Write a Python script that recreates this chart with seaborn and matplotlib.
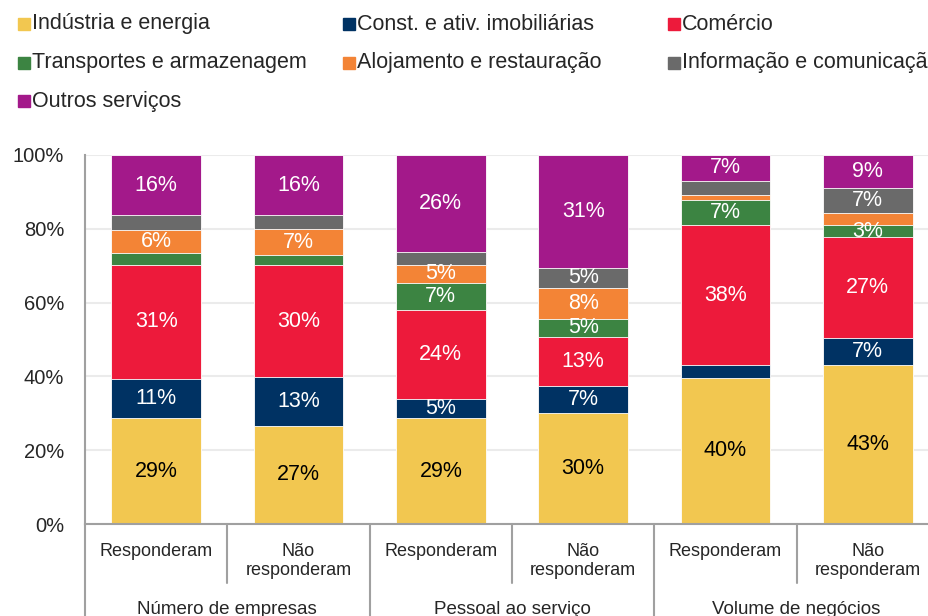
import numpy as np
import matplotlib
matplotlib.use("Agg")
import matplotlib.pyplot as plt
from matplotlib.patches import Rectangle
import seaborn as sns

groups = ["Número de empresas", "Pessoal ao serviço", "Volume de negócios"]
answers = ["Responderam", "Não\nresponderam"]

sectors = ["Indústria e energia", "Const. e ativ. imobiliárias", "Comércio",
           "Transportes e armazenagem", "Alojamento e restauração",
           "Informação e comunicação", "Outros serviços"]
colors = ["#F2C750", "#003263", "#ED1A3B", "#3C8442", "#F38436", "#6A6A6A", "#A3198A"]

# shares (%) per bar: empresas R/NR, pessoal R/NR, volume R/NR
industria = [28.7, 26.6, 28.6, 30.1, 39.6, 43.1]
construcao = [10.6, 13.2, 5.4, 7.3, 3.5, 7.3]
comercio = [30.9, 30.4, 24.1, 13.3, 37.9, 27.4]
transportes = [3.2, 2.7, 7.3, 4.9, 6.8, 3.2]
alojamento = [6.3, 7.0, 4.9, 8.4, 1.4, 3.3]
informacao = [4.0, 3.8, 3.5, 5.4, 3.8, 6.8]
outros = [16.3, 16.3, 26.2, 30.6, 7.0, 8.9]

min_label = 4.5
extra_labels = [(3, 5)]  # small segment that is still labelled

sns.set_style("white")
plt.rcParams['font.family'] = ['Liberation Sans', 'DejaVu Sans']

shares = np.array([industria, construcao, comercio, transportes, alojamento, informacao, outros])
tops = shares.cumsum(axis=0)
keys = [f"{g}|{a}" for g in groups for a in answers]

fig = plt.figure(figsize=(9.29, 6.16), dpi=100)
W, H = 929, 616
ax = fig.add_axes([85 / W, 92 / H, 854 / W, 369 / H])

# draw cumulative totals from the top segment down so each layer covers the next
for i in range(len(sectors) - 1, -1, -1):
    sns.barplot(x=keys, y=tops[i], order=keys, color=colors[i], saturation=1,
                width=0.63, edgecolor="white", linewidth=0.6, errorbar=None, ax=ax)

for i in range(len(sectors)):
    for j in range(len(keys)):
        val = shares[i, j]
        if val >= min_label or (i, j) in extra_labels:
            ax.text(j, tops[i, j] - val / 2, f"{val:.0f}%", ha="center", va="center",
                    fontsize=15.5, color="black" if i == 0 else "white")

ax.set_xlim(-0.5, len(keys) - 0.5)
ax.set_ylim(0, 100)
ax.set_yticks(range(0, 101, 20))
ax.set_yticklabels([f"{v}%" for v in range(0, 101, 20)], fontsize=14.5)
ax.yaxis.grid(True, color="#EBEBEB", lw=1.5)
ax.set_axisbelow(True)
ax.tick_params(axis="y", length=5, width=1.5, color="#A0A0A0", pad=10)
ax.set_xticks(range(len(keys)))
ax.set_xticklabels(answers * len(groups), fontsize=13, linespacing=1.15)
ax.tick_params(axis="x", length=0, pad=14)
ax.set_xlabel("")
ax.set_ylabel("")
for side in ["top", "right"]:
    ax.spines[side].set_visible(False)
for side in ["left", "bottom"]:
    ax.spines[side].set_color("#A0A0A0")
    ax.spines[side].set_linewidth(1.5)

# hierarchical category axis
trans = ax.get_xaxis_transform()
y_low = -(616 - 524) / 369
y_mid = -(583 - 524) / 369
for k in range(len(groups) + 1):
    ax.plot([2 * k - 0.5] * 2, [0, y_low], color="#A0A0A0", lw=1.5,
            transform=trans, clip_on=False)
for k in range(len(groups)):
    ax.plot([2 * k + 0.5] * 2, [0, y_mid], color="#A0A0A0", lw=1.5,
            transform=trans, clip_on=False)
    ax.text(2 * k + 0.5, -(609 - 524) / 369, groups[k], ha="center", va="center",
            fontsize=13.5, transform=trans)

# legend laid out in equal-width columns
for n, name in enumerate(sectors):
    row, col = divmod(n, 3)
    x0 = 18 + 325 * col
    yc = 24 + 38.5 * row
    fig.patches.append(Rectangle((x0 / W, 1 - (yc + 6) / H), 12 / W, 12 / H,
                                 transform=fig.transFigure, color=colors[n]))
    fig.text((x0 + 14) / W, 1 - yc / H, name, fontsize=15.5, va="center", ha="left")

fig.savefig("out.png", dpi=100)
